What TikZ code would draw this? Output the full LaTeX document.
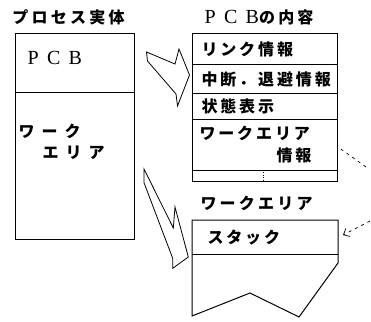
\documentclass[tikz,border=0pt]{standalone}
\usepackage{fontspec}
\usetikzlibrary{arrows.meta}
\newfontfamily\jp{Noto Sans CJK JP}[LetterSpace=18]
\newfontfamily\jpt{Noto Sans CJK JP}[LetterSpace=20]
\newfontfamily\jpw{Noto Sans CJK JP}[LetterSpace=44]
\newfontfamily\pcbfont{Liberation Serif}[LetterSpace=42]
\begin{document}
\begin{tikzpicture}[x=1pt,y=-1pt,line width=1pt,
  lbl/.style={inner sep=0pt,anchor=west,font=\jp\bfseries\fontsize{16}{16}\selectfont},
  ttl/.style={inner sep=0pt,anchor=west,font=\jpt\bfseries\fontsize{16}{16}\selectfont},
  wide/.style={inner sep=0pt,anchor=west,font=\jpw\bfseries\fontsize{16}{16}\selectfont},
  boxframe/.style={draw,inner sep=0pt,anchor=north west},
  blockarrow/.style={draw,line width=0.8pt,line join=miter},
  dashline/.style={dash pattern=on 3pt off 4pt,line width=0.7pt}]
\useasboundingbox (0,0) rectangle (371,321);
% titles
\node[ttl] (t1) at (12,17) {プロセス実体};
\node[inner sep=0pt,anchor=west] (t2) at (204,17) {\pcbfont\fontsize{20}{20}\selectfont PCB\jpt\bfseries\fontsize{16}{16}\selectfont の内容};
% left box
\node[boxframe,minimum width=119pt,minimum height=206pt] (proc) at (15,33) {};
\draw (15,92) -- (134,92);
\node[inner sep=0pt,anchor=west] (pcb) at (27,58) {\pcbfont\fontsize{20}{20}\selectfont PCB};
\node[wide] (wk1) at (18,131) {ワーク};
\node[wide] (wk2) at (42,153) {エリア};
% upper right box
\node[boxframe,minimum width=145pt,minimum height=148pt] (pcbbox) at (192,33) {};
\draw (192,64) -- (337,64);
\draw (192,93) -- (337,93);
\draw (192,119) -- (337,119);
\draw (192,170) -- (337,170);
\draw[dotted,line width=0.6pt] (263,172) -- (263,180);
\node[lbl] (r1) at (201,49) {リンク情報};
\node[lbl] (r2) at (201,79) {中断．退避情報};
\node[lbl] (r3) at (201,106) {状態表示};
\node[lbl] (r4) at (199,133) {ワークエリア};
\node[lbl] (r5) at (276,155) {情報};
% lower right box
\node[ttl] (t3) at (200,203) {ワークエリア};
\draw[line join=miter] (192,220) -- (338,220) -- (338,263) -- (299,317) -- (250,293) -- (192,316) -- cycle;
\draw (192,254) -- (338,254);
\node[lbl] (stk) at (207,238) {スタック};
% block arrows
\draw[blockarrow] (146.5,52) -- (147.5,61) -- (176,94) -- (177.5,106) -- (189.5,75) -- (179,49) -- (175,64) -- cycle;
\draw[blockarrow] (144,169) -- (173.3,228) -- (175,207) -- (188.3,257) -- (172.7,268.3) -- (172.7,258.3) -- (144,182.7) -- cycle;
% dashed pointers
\coordinate (d1) at (366,167);
\coordinate (d2) at (370,221);
\draw[dashline] (d1) -- (pcbbox.east |- 0,147);
\draw[dashline,-{Straight Barb[length=5pt,width=9pt,line width=0.7pt]}] (d2) -- (343,235);
\end{tikzpicture}
\end{document}
